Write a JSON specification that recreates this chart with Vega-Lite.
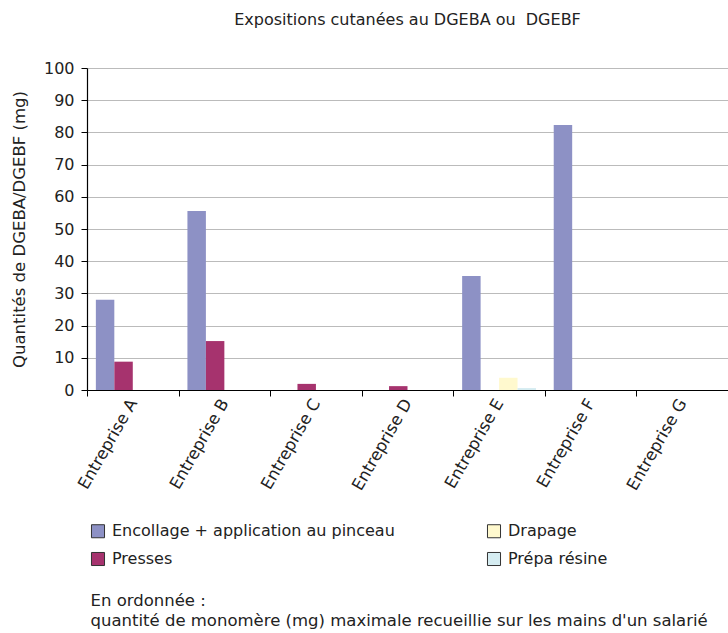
{
  "$schema": "https://vega.github.io/schema/vega-lite/v6.json",
  "autosize": "none",
  "width": 641,
  "height": 322,
  "padding": {"left": 87, "top": 68, "right": 0, "bottom": 243},
  "background": "white",
  "config": {
    "font": "DejaVu Sans",
    "view": {"stroke": null}
  },
  "title": {
    "text": "Expositions cutanées au DGEBA ou \u00a0DGEBF",
    "fontSize": 16,
    "fontWeight": "normal",
    "color": "#222",
    "offset": 32
  },
  "data": {
    "values": [
      {"entreprise": "Entreprise A", "poste": "Encollage + application au pinceau", "valeur": 28},
      {"entreprise": "Entreprise A", "poste": "Presses", "valeur": 8.8},
      {"entreprise": "Entreprise A", "poste": "Drapage", "valeur": 0},
      {"entreprise": "Entreprise A", "poste": "Prépa résine", "valeur": 0},
      {"entreprise": "Entreprise B", "poste": "Encollage + application au pinceau", "valeur": 55.6},
      {"entreprise": "Entreprise B", "poste": "Presses", "valeur": 15.2},
      {"entreprise": "Entreprise B", "poste": "Drapage", "valeur": 0},
      {"entreprise": "Entreprise B", "poste": "Prépa résine", "valeur": 0},
      {"entreprise": "Entreprise C", "poste": "Encollage + application au pinceau", "valeur": 0},
      {"entreprise": "Entreprise C", "poste": "Presses", "valeur": 1.9},
      {"entreprise": "Entreprise C", "poste": "Drapage", "valeur": 0},
      {"entreprise": "Entreprise C", "poste": "Prépa résine", "valeur": 0},
      {"entreprise": "Entreprise D", "poste": "Encollage + application au pinceau", "valeur": 0},
      {"entreprise": "Entreprise D", "poste": "Presses", "valeur": 1.2},
      {"entreprise": "Entreprise D", "poste": "Drapage", "valeur": 0},
      {"entreprise": "Entreprise D", "poste": "Prépa résine", "valeur": 0},
      {"entreprise": "Entreprise E", "poste": "Encollage + application au pinceau", "valeur": 35.4},
      {"entreprise": "Entreprise E", "poste": "Presses", "valeur": 0},
      {"entreprise": "Entreprise E", "poste": "Drapage", "valeur": 3.8},
      {"entreprise": "Entreprise E", "poste": "Prépa résine", "valeur": 0.6},
      {"entreprise": "Entreprise F", "poste": "Encollage + application au pinceau", "valeur": 82.3},
      {"entreprise": "Entreprise F", "poste": "Presses", "valeur": 0},
      {"entreprise": "Entreprise F", "poste": "Drapage", "valeur": 0},
      {"entreprise": "Entreprise F", "poste": "Prépa résine", "valeur": 0},
      {"entreprise": "Entreprise G", "poste": "Encollage + application au pinceau", "valeur": 0},
      {"entreprise": "Entreprise G", "poste": "Presses", "valeur": 0},
      {"entreprise": "Entreprise G", "poste": "Drapage", "valeur": 0},
      {"entreprise": "Entreprise G", "poste": "Prépa résine", "valeur": 0}
    ]
  },
  "mark": {"type": "bar"},
  "encoding": {
    "x": {
      "field": "entreprise",
      "type": "nominal",
      "sort": null,
      "scale": {"paddingInner": 0, "paddingOuter": 0},
      "axis": {
        "title": ["En ordonnée :", "quantité de monomère (mg) maximale recueillie sur les mains d'un salarié"],
        "titleAnchor": "start",
        "titleAlign": "left",
        "titleBaseline": "top",
        "titleX": 3,
        "titleY": 202,
        "titleFontSize": 16.5,
        "titleFontWeight": "normal",
        "titleColor": "#222",
        "titleLineHeight": 20,
        "labelAngle": -60,
        "labelAlign": "right",
        "labelBaseline": "middle",
        "labelFontSize": 16.5,
        "labelColor": "#222",
        "labelPadding": 4,
        "labelLimit": 0,
        "tickBand": "extent",
        "tickColor": "#000",
        "tickSize": 6,
        "domainColor": "#000",
        "domainWidth": 1.2
      }
    },
    "xOffset": {
      "field": "poste",
      "type": "nominal",
      "sort": ["Encollage + application au pinceau", "Presses", "Drapage", "Prépa résine"],
      "scale": {"paddingInner": 0, "paddingOuter": 0.48}
    },
    "y": {
      "field": "valeur",
      "type": "quantitative",
      "scale": {"domain": [0, 100], "nice": false},
      "axis": {
        "title": "Quantités de DGEBA/DGEBF (mg)",
        "titleFontSize": 16.5,
        "titleFontWeight": "normal",
        "titleColor": "#222",
        "titlePadding": 16,
        "values": [0, 10, 20, 30, 40, 50, 60, 70, 80, 90, 100],
        "labelFontSize": 16,
        "labelColor": "#222",
        "labelPadding": 7,
        "tickColor": "#000",
        "tickSize": 6,
        "domainColor": "#000",
        "domainWidth": 1.2,
        "gridColor": "#bbbbbb",
        "gridWidth": 1.2
      }
    },
    "color": {
      "field": "poste",
      "type": "nominal",
      "scale": {
        "domain": ["Encollage + application au pinceau", "Presses", "Drapage", "Prépa résine"],
        "range": ["#8D91C5", "#A6336E", "#FFF9CE", "#D5ECF1"]
      },
      "legend": {
        "title": null,
        "orient": "none",
        "legendX": 3,
        "legendY": 455,
        "columns": 2,
        "columnPadding": 90,
        "rowPadding": 10,
        "labelLimit": 0,
        "symbolType": "square",
        "symbolSize": 170,
        "symbolStrokeColor": "#333",
        "symbolStrokeWidth": 1,
        "symbolOpacity": 1,
        "labelFontSize": 16,
        "labelColor": "#222",
        "labelOffset": 6
      }
    }
  }
}
